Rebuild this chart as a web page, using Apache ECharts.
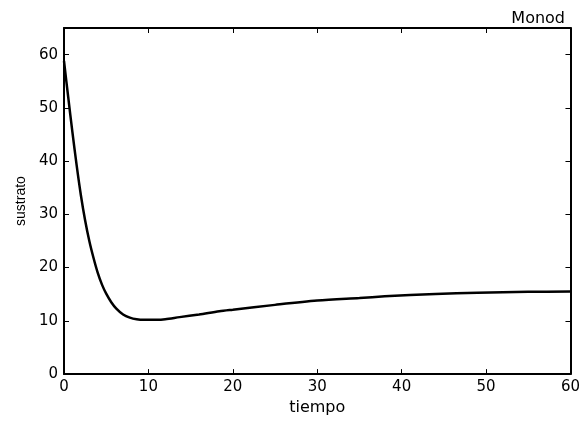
<!DOCTYPE html>
<html>
<head>
<meta charset="utf-8">
<script src="https://cdn.jsdelivr.net/npm/echarts@6/dist/echarts.min.js"></script>
<style>
html,body{margin:0;padding:0;background:#fff;}
#c{width:583px;height:421px;}
</style>
</head>
<body>
<div id="c"></div>
<script>
// Data
var tiempo = [0, 0.5, 1.0, 1.5, 2.0, 2.5, 3.0, 3.5, 4.0, 4.5, 5.0, 5.6, 6.2, 7.0, 7.8, 8.6, 9.5, 11, 12, 13.7, 16, 18.4, 20, 25, 30, 35, 38, 44, 49, 55, 60];
var sustrato = [58.8, 52.0, 45.4, 39.2, 33.6, 28.9, 25.0, 21.8, 19.0, 16.8, 15.1, 13.5, 12.3, 11.2, 10.6, 10.3, 10.2, 10.2, 10.3, 10.7, 11.2, 11.8, 12.1, 13.0, 13.8, 14.3, 14.6, 15.05, 15.3, 15.45, 15.5];
var xTicks = [0, 10, 20, 30, 40, 50, 60];
var yTicks = [0, 10, 20, 30, 40, 50, 60];
var titleText = 'Monod';
var xName = 'tiempo';
var yName = 'sustrato';

var points = tiempo.map(function (t, i) { return [t, sustrato[i]]; });

var chart = echarts.init(document.getElementById('c'), null, {renderer: 'canvas'});
var lineStyle = {color: '#000', width: 2};
var tickFont = {color: '#000', fontFamily: 'DejaVu Sans', fontSize: 15};

function axisBase(extra) {
  var o = {
    type: 'value',
    axisLine: {show: true, onZero: false, lineStyle: lineStyle},
    axisTick: {show: true, inside: true, length: 5, lineStyle: {color: '#000', width: 1}},
    splitLine: {show: false}
  };
  for (var k in extra) o[k] = extra[k];
  return o;
}

chart.setOption({
  animation: false,
  backgroundColor: '#fff',
  title: {
    text: titleText,
    right: 13,
    top: 6,
    textStyle: {color: '#000', fontFamily: 'DejaVu Sans', fontSize: 16, fontWeight: 'normal'}
  },
  grid: {left: 64, right: 11, top: 28, bottom: 46, containLabel: false},
  xAxis: [
    axisBase({
      position: 'bottom', min: 0, max: 60, interval: 10,
      name: xName, nameLocation: 'middle', nameGap: 24,
      nameTextStyle: {color: '#000', fontFamily: 'DejaVu Sans', fontSize: 16},
      axisLabel: Object.assign({margin: 6, formatter: function (v) { return xTicks.indexOf(v) >= 0 ? String(v) : ''; }}, tickFont)
    }),
    axisBase({
      position: 'top', min: 0, max: 60, interval: 10,
      axisLabel: {show: false}
    })
  ],
  yAxis: [
    axisBase({
      position: 'left', min: 0, max: 65, interval: 10,
      name: yName, nameLocation: 'middle', nameGap: 36,
      nameTextStyle: {color: '#000', fontFamily: 'Liberation Sans', fontSize: 14},
      axisLabel: Object.assign({margin: 6, formatter: function (v) { return yTicks.indexOf(v) >= 0 ? String(v) : ''; }}, tickFont)
    }),
    axisBase({
      position: 'right', min: 0, max: 65, interval: 10,
      axisLabel: {show: false}
    })
  ],
  series: [{
    type: 'line',
    xAxisIndex: 0,
    yAxisIndex: 0,
    data: points,
    smooth: 0.3,
    showSymbol: false,
    symbol: 'none',
    lineStyle: {color: '#000', width: 2.5},
    clip: true
  }]
});
</script>
</body>
</html>
